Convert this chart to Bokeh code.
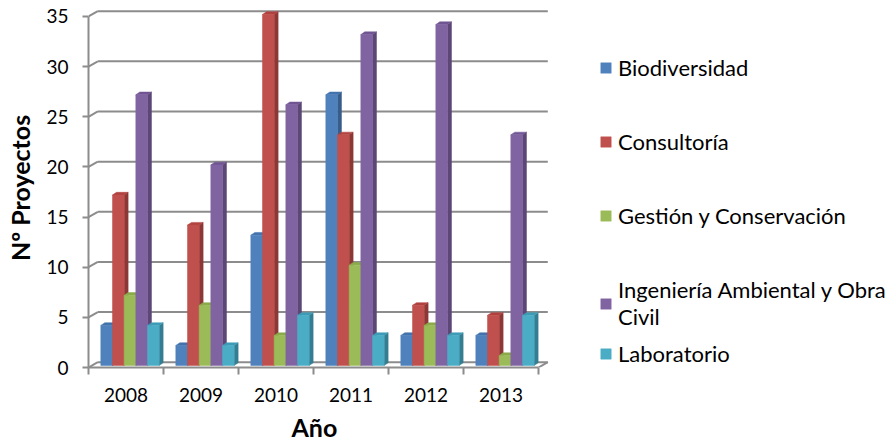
from bokeh.plotting import figure
from bokeh.models import FixedTicker, Legend, LegendItem, Range1d, Title
from bokeh.embed import file_html
from bokeh.resources import INLINE
import numpy as np

years = ["2008", "2009", "2010", "2011", "2012", "2013"]
series_names = ["Biodiversidad", "Consultoría", "Gestión y Conservación",
                "Ingeniería Ambiental y Obra\nCivil", "Laboratorio"]
biodiversidad = [4, 2, 13, 27, 3, 3]
consultoria = [17, 14, 35, 23, 6, 5]
gestion = [7, 6, 3, 10, 4, 1]
ingenieria = [27, 20, 26, 33, 34, 23]
laboratorio = [4, 2, 5, 3, 3, 5]
y_ticks = [0, 5, 10, 15, 20, 25, 30, 35]

series_values = [biodiversidad, consultoria, gestion, ingenieria, laboratorio]
front_colors = ["#4F81BD", "#C0504D", "#9BBB59", "#8064A2", "#4BACC6"]
side_colors = ["#385D8A", "#8C3836", "#71893F", "#5C4776", "#357D91"]
top_colors = ["#4372AC", "#B0423F", "#8AAB4A", "#705592", "#3E9CB6"]

FONT = "Lato"
GRID = "#8C8C8C"
TXT = "#000000"

W, H = 893, 447
LEFT_B, TOP_B, BOT_B = 88, 8, 79
FRAME_W = W - LEFT_B
FRAME_H = H - TOP_B - BOT_B
XPX = 75.0
YPX = 352.0 / 35.0

p = figure(width=W, height=H,
           x_range=Range1d(0, FRAME_W / XPX), y_range=Range1d(0, FRAME_H / YPX),
           min_border_left=LEFT_B, min_border_right=0,
           min_border_top=TOP_B, min_border_bottom=BOT_B,
           output_backend="svg", toolbar_location=None, outline_line_color=None)
p.grid.visible = False

wdx, wdy = 9.3 / XPX, 5.3 / YPX
bdx, bdy = 4.0 / XPX, 2.7 / YPX
base = 2.0 / YPX
n = len(years)
x_end = n + wdx

yt = np.array(y_ticks, dtype=float)
p.segment(x0=np.zeros_like(yt), y0=yt, x1=np.full_like(yt, wdx), y1=yt + wdy,
          line_color=GRID, line_width=2)
p.segment(x0=np.full_like(yt, wdx), y0=yt + wdy, x1=np.full_like(yt, x_end), y1=yt + wdy,
          line_color=GRID, line_width=2)
p.segment(x0=[n], y0=[0], x1=[x_end], y1=[wdy], line_color=GRID, line_width=2)

bw = 11.67 / XPX
off = 12.3 / XPX
cats = np.arange(n)
front_r = []
geoms = []
for i, vals in enumerate(series_values):
    v = np.array(vals, dtype=float)
    left = cats + off + i * bw
    right = left + bw
    top = base + v
    geoms.append((left, right, top))

for i, (left, right, top) in enumerate(geoms):
    xs = [[r, r + bdx, r + bdx, r] for r in right]
    ys = [[base, base + bdy, t + bdy, t] for t in top]
    p.patches(xs, ys, fill_color=side_colors[i], line_color=side_colors[i], line_width=0.5)
for i, (left, right, top) in enumerate(geoms):
    xs = [[l, r, r + bdx, l + bdx] for l, r in zip(left, right)]
    ys = [[t, t, t + bdy, t + bdy] for t in top]
    p.patches(xs, ys, fill_color=top_colors[i], line_color=top_colors[i], line_width=0.5)
for i, (left, right, top) in enumerate(geoms):
    r = p.quad(left=left, right=right, bottom=np.full_like(top, base), top=top,
               fill_color=front_colors[i], line_color=front_colors[i], line_width=0.5)
    front_r.append(r)

ya = p.yaxis[0]
ya.ticker = FixedTicker(ticks=y_ticks)
ya.bounds = (0, 35)
ya.axis_line_color = GRID
ya.axis_line_width = 2
ya.major_tick_line_color = GRID
ya.major_tick_line_width = 2
ya.major_tick_out = 6
ya.major_tick_in = 0
ya.minor_tick_line_color = None
ya.major_label_text_font = FONT
ya.major_label_text_font_size = "19px"
ya.major_label_text_color = TXT
ya.major_label_standoff = 14
ya.axis_label = "Nº Proyectos"
ya.axis_label_text_font = FONT
ya.axis_label_text_font_size = "25px"
ya.axis_label_text_font_style = "bold"
ya.axis_label_text_color = TXT
ya.axis_label_standoff = 8

xa = p.xaxis[0]
xa.ticker = FixedTicker(ticks=[k + 0.5 for k in range(n)], minor_ticks=list(range(n + 1)))
xa.major_label_overrides = {k + 0.5: years[k] for k in range(n)}
xa.bounds = (0, n)
xa.axis_line_color = GRID
xa.axis_line_width = 2
xa.major_tick_line_color = None
xa.major_tick_out = 0
xa.major_tick_in = 0
xa.minor_tick_line_color = GRID
xa.minor_tick_line_width = 2
xa.minor_tick_out = 7
xa.minor_tick_in = 0
xa.major_label_text_font = FONT
xa.major_label_text_font_size = "19px"
xa.major_label_text_color = TXT
xa.major_label_standoff = 13

# x-axis title, centred under the category axis (not under the whole frame)
xtitle = Title(text="Año", align="left", offset=n * XPX / 2 - 22, standoff=11,
               text_font=FONT, text_font_size="25px", text_font_style="bold",
               text_color=TXT, text_line_height=1.0)
p.add_layout(xtitle, "below")

def make_legend(items, loc, spacing, line_height, label_height):
    return Legend(items=items, location=loc, orientation="vertical", spacing=spacing,
                  padding=0, margin=0, border_line_color=None, background_fill_alpha=0,
                  glyph_width=13, glyph_height=13, label_standoff=6,
                  label_text_font=FONT, label_text_font_size="22px", label_text_color=TXT,
                  label_text_line_height=line_height, label_height=label_height)

items = [LegendItem(label=series_names[i], renderers=[front_r[i]]) for i in range(5)]
p.add_layout(make_legend(items[:4], (511, 37), 47, 1.45, 24))
p.add_layout(make_legend(items[4:], (511, 0), 0, 0.75, 14))

open("out.html", "w").write(file_html(p, INLINE))
